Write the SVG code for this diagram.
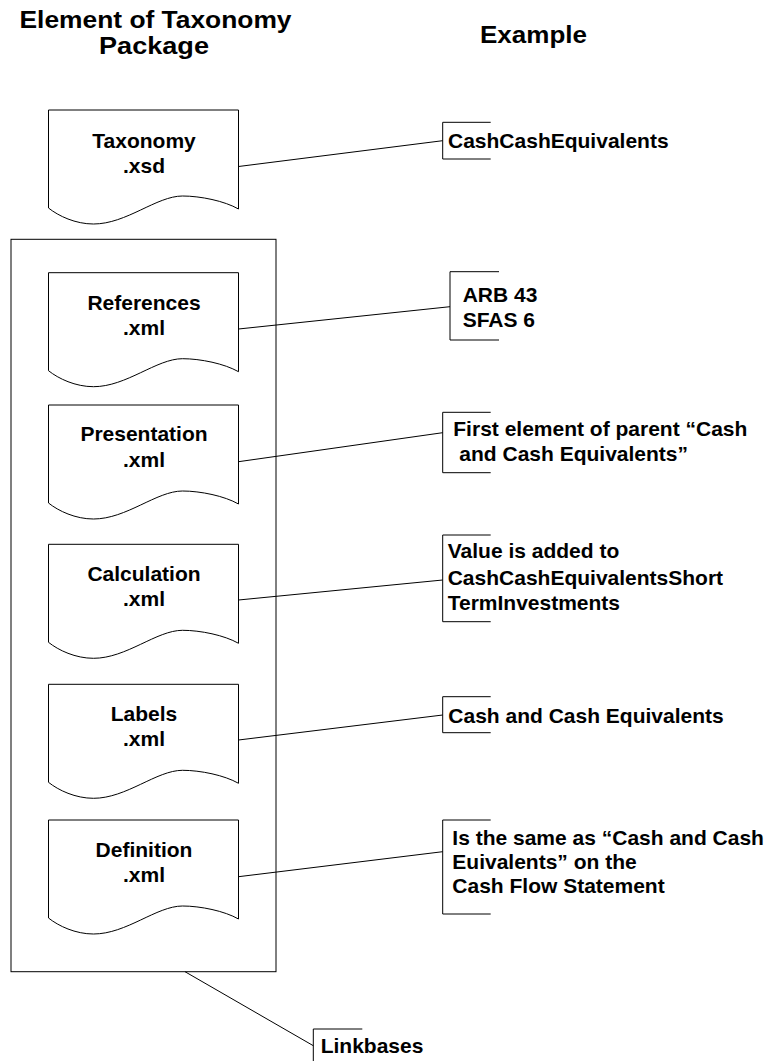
<svg xmlns="http://www.w3.org/2000/svg" xmlns:xlink="http://www.w3.org/1999/xlink" width="770" height="1061" viewBox="0 0 770 1061">
<style>
.t{font-family:"Liberation Sans",Arial,sans-serif;font-weight:bold;fill:#000}
.h{font-size:24px}
.n{font-size:21px}
.doc{fill:#fff;stroke:#000;stroke-width:1}
.ln{fill:none;stroke:#000;stroke-width:1}
</style>
<defs>
<path id="docshape" d="M0,0 H190 V99 C176,91 152,86 134,86 C108,86 78,114 45,114 C27,114 10,106 0,98 Z"/>
</defs>
<rect width="770" height="1061" fill="#fff"/>
<g id="headers">
<text class="t h" x="155.5" y="27.7" text-anchor="middle" textLength="272" lengthAdjust="spacingAndGlyphs">Element of Taxonomy</text>
<text class="t h" x="154" y="54" text-anchor="middle" textLength="110" lengthAdjust="spacingAndGlyphs">Package</text>
<text class="t h" x="533.5" y="43.3" text-anchor="middle" textLength="107" lengthAdjust="spacingAndGlyphs">Example</text>
</g>
<g id="linkbases-container">
<rect class="ln" x="11" y="239.3" width="265" height="732.4"/>
</g>
<g id="connectors">
<line class="ln" x1="238.5" y1="166.5" x2="442.7" y2="140.7"/>
<line class="ln" x1="238.5" y1="329" x2="450" y2="306.7"/>
<line class="ln" x1="238.5" y1="461.7" x2="442.7" y2="432.7"/>
<line class="ln" x1="238.5" y1="600" x2="442.7" y2="580"/>
<line class="ln" x1="238.5" y1="740" x2="442.7" y2="715"/>
<line class="ln" x1="238.5" y1="876.7" x2="442.7" y2="851.7"/>
<line class="ln" x1="185" y1="971.7" x2="313.3" y2="1045.7"/>
</g>
<g id="doc-taxonomy">
<use xlink:href="#docshape" href="#docshape" class="doc" x="48.5" y="110"/>
<text class="t n" x="144" y="147.7" text-anchor="middle">Taxonomy</text>
<text class="t n" x="144" y="173" text-anchor="middle">.xsd</text>
</g>
<g id="doc-references">
<use xlink:href="#docshape" href="#docshape" class="doc" x="48.5" y="272.7"/>
<text class="t n" x="144" y="310" text-anchor="middle">References</text>
<text class="t n" x="144" y="335" text-anchor="middle">.xml</text>
</g>
<g id="doc-presentation">
<use xlink:href="#docshape" href="#docshape" class="doc" x="48.5" y="405"/>
<text class="t n" x="144" y="441" text-anchor="middle">Presentation</text>
<text class="t n" x="144" y="466.5" text-anchor="middle">.xml</text>
</g>
<g id="doc-calculation">
<use xlink:href="#docshape" href="#docshape" class="doc" x="48.5" y="544.3"/>
<text class="t n" x="144" y="580.7" text-anchor="middle">Calculation</text>
<text class="t n" x="144" y="606.3" text-anchor="middle">.xml</text>
</g>
<g id="doc-labels">
<use xlink:href="#docshape" href="#docshape" class="doc" x="48.5" y="684.3"/>
<text class="t n" x="144" y="721" text-anchor="middle">Labels</text>
<text class="t n" x="144" y="746.3" text-anchor="middle">.xml</text>
</g>
<g id="doc-definition">
<use xlink:href="#docshape" href="#docshape" class="doc" x="48.5" y="820"/>
<text class="t n" x="144" y="856.7" text-anchor="middle">Definition</text>
<text class="t n" x="144" y="882" text-anchor="middle">.xml</text>
</g>
<g id="note-taxonomy">
<path class="ln" d="M490.7,122.3 H442.7 V159 H490.7"/>
<text class="t n" x="448" y="147.7">CashCashEquivalents</text>
</g>
<g id="note-references">
<path class="ln" d="M499,271.7 H450 V340 H499"/>
<text class="t n" x="462.7" y="302.3">ARB 43</text>
<text class="t n" x="462.7" y="326.7">SFAS 6</text>
</g>
<g id="note-presentation">
<path class="ln" d="M490.7,412.3 H442.7 V472.7 H490.7"/>
<text class="t n" x="453.3" y="436">First element of parent “Cash</text>
<text class="t n" x="459.3" y="461">and Cash Equivalents”</text>
</g>
<g id="note-calculation">
<path class="ln" d="M490.7,535 H442.7 V621.7 H490.7"/>
<text class="t n" x="447.7" y="558.3">Value is added to</text>
<text class="t n" x="447.7" y="585">CashCashEquivalentsShort</text>
<text class="t n" x="447.7" y="610">TermInvestments</text>
</g>
<g id="note-labels">
<path class="ln" d="M490.7,696.7 H442.7 V732.7 H490.7"/>
<text class="t n" x="448.3" y="722.7">Cash and Cash Equivalents</text>
</g>
<g id="note-definition">
<path class="ln" d="M490.7,820 H442.7 V914 H490.7"/>
<text class="t n" x="452.3" y="845">Is the same as “Cash and Cash</text>
<text class="t n" x="452.3" y="869.3">Euivalents” on the</text>
<text class="t n" x="452.3" y="893.3">Cash Flow Statement</text>
</g>
<g id="note-linkbases">
<path class="ln" d="M362.3,1029 H313.3 V1070"/>
<text class="t n" x="320.7" y="1053.3">Linkbases</text>
</g>
</svg>
